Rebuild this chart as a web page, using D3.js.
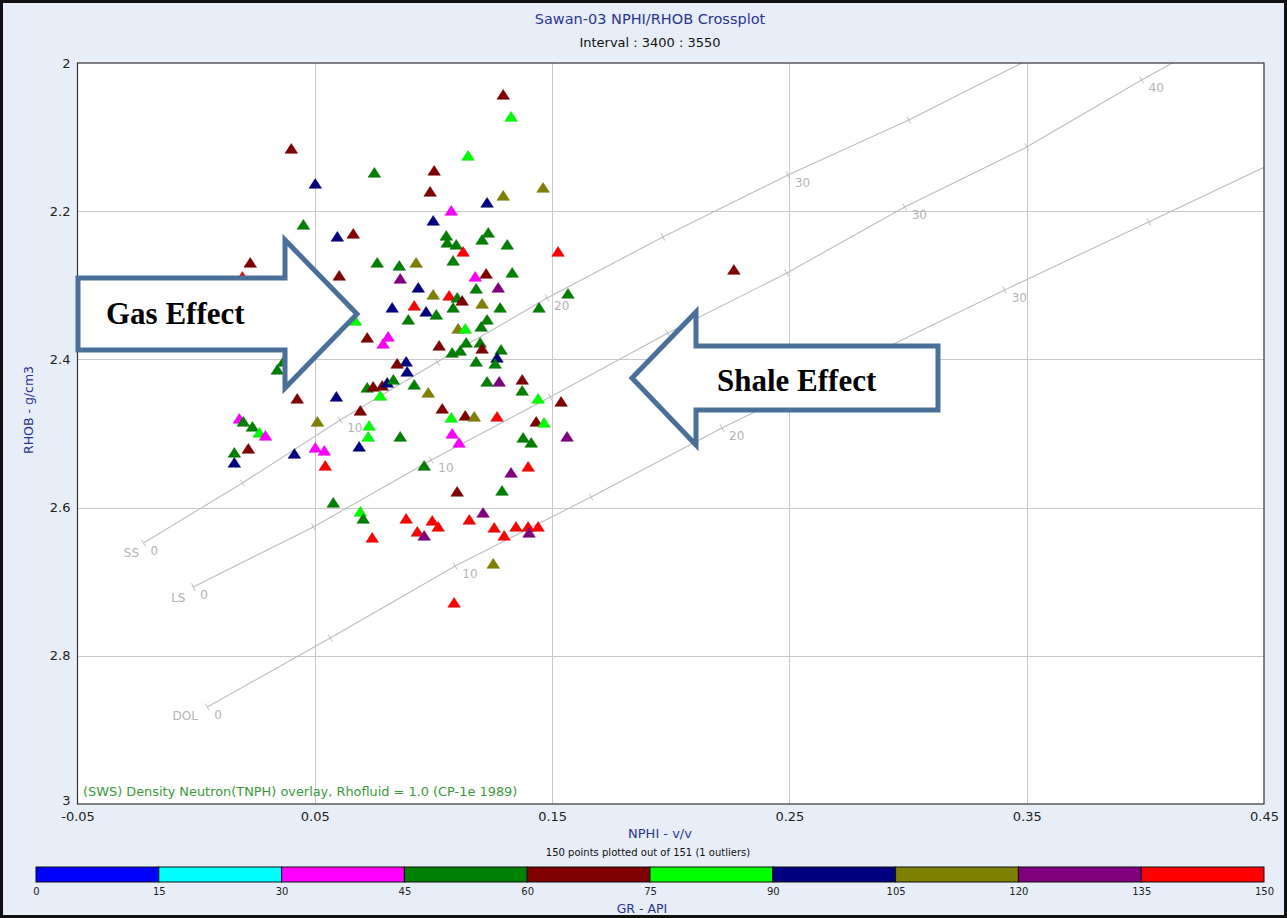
<!DOCTYPE html>
<html><head><meta charset="utf-8">
<script src="https://cdn.jsdelivr.net/npm/d3@7"></script>
<style>body{margin:0;background:#fff;}svg{display:block;}</style>
</head><body>
<svg id="chart" width="1287" height="918"></svg>
<script>
// ---------------- DATA ----------------
const pointNPHI = [0.1294,0.1327,0.0401,0.1146,0.1003,0.0751,0.0502,0.0986,0.1462,0.1294,
0.1226,0.1075,0.0999,0.0452,0.0595,0.0662,0.1054,0.1231,0.1058,0.1096,
0.1205,0.1311,0.1125,0.1525,0.0228,0.0195,0.0763,0.0856,0.0927,0.1083,
0.0603,0.0860,0.1176,0.1222,0.1332,0.0936,0.0999,0.1066,0.1100,0.1121,
0.1180,0.1273,0.1205,0.1281,0.1567,0.1445,0.0919,0.0969,0.0826,0.1083,
0.0894,0.1012,0.1226,0.1201,0.1104,0.1134,0.0671,0.0721,0.0809,0.0788,
0.1024,0.1079,0.1113,0.1138,0.1197,0.1205,0.1285,0.1268,0.1260,0.1180,
0.0885,0.0847,0.0889,0.0367,0.0342,0.0721,0.0746,0.0784,0.0805,0.0831,
0.0776,0.0919,0.0978,0.1226,0.1277,0.1374,0.1374,0.1441,0.1538,0.0426,
0.0591,0.0692,0.0511,0.0729,0.0725,0.0687,0.1037,0.1075,0.1134,0.1172,
0.1268,0.1433,0.1466,0.0860,0.1079,0.1108,0.1378,0.1412,0.1563,0.0182,
0.0199,0.0237,0.0266,0.0292,0.0161,0.0220,0.0161,0.0414,0.0502,0.0540,
0.0544,0.0961,0.1327,0.1399,0.1100,0.1289,0.0578,0.0692,0.0704,0.0742,
0.0885,0.0995,0.1020,0.0932,0.0961,0.1151,0.1209,0.1256,0.1298,0.1348,
0.1399,0.1441,0.1403,0.1252,0.1087,0.2266];
const pointRHOB = [2.0432,2.0729,2.1161,2.1255,2.1457,2.1484,2.1633,2.1741,2.1687,2.1795,
2.1889,2.1997,2.2132,2.2186,2.2348,2.2308,2.2335,2.2294,2.2429,2.2456,
2.2389,2.2456,2.2551,2.2551,2.2699,2.2888,2.2699,2.2740,2.2699,2.2672,
2.2874,2.2915,2.2888,2.2848,2.2834,2.3036,2.3131,2.3144,2.3171,2.3212,
2.3050,2.3036,2.3252,2.3306,2.3117,2.3306,2.3279,2.3360,2.3306,2.3306,
2.3468,2.3401,2.3468,2.3563,2.3590,2.3590,2.3482,2.3711,2.3698,2.3792,
2.3819,2.3914,2.3887,2.3779,2.3779,2.3860,2.3873,2.3981,2.4062,2.4035,
2.4035,2.4062,2.4170,2.4035,2.4143,2.4386,2.4372,2.4359,2.4318,2.4278,
2.4494,2.4345,2.4453,2.4305,2.4305,2.4278,2.4426,2.4534,2.4575,2.4534,
2.4507,2.4696,2.4845,2.4899,2.5047,2.5182,2.4669,2.4791,2.4764,2.4777,
2.4777,2.4845,2.4858,2.5047,2.5007,2.5128,2.5061,2.5128,2.5047,2.4804,
2.4845,2.4912,2.4993,2.5034,2.5263,2.5209,2.5398,2.5277,2.5196,2.5236,
2.5439,2.5439,2.5533,2.5452,2.5789,2.5776,2.5938,2.6059,2.6154,2.6410,
2.6154,2.6181,2.6262,2.6329,2.6383,2.6167,2.6073,2.6275,2.6383,2.6262,
2.6262,2.6262,2.6343,2.6761,2.7287,2.2794];
const pointGR = [67,82,67,82,67,52,97,67,112,112,
97,37,97,52,97,67,52,52,52,52,
52,52,142,142,67,142,52,52,112,52,
67,127,37,67,52,97,112,142,52,67,
52,127,112,52,52,52,142,97,97,52,
52,52,52,52,112,82,82,67,37,37,
67,52,52,52,52,67,52,97,52,52,
97,67,97,52,52,52,67,67,97,52,
82,52,112,52,127,67,52,82,67,67,
97,67,112,82,82,97,67,82,67,112,
142,67,82,52,37,37,52,52,127,37,
52,52,82,37,52,67,97,97,37,37,
142,52,127,142,67,52,52,82,52,142,
142,142,142,142,127,142,127,142,142,142,
142,142,127,112,142,67];

const xTickValues = [-0.05, 0.05, 0.15, 0.25, 0.35, 0.45];
const xTickLabels = ["-0.05", "0.05", "0.15", "0.25", "0.35", "0.45"];
const yTickValues = [2, 2.2, 2.4, 2.6, 2.8, 3];
const yTickLabels = ["2", "2.2", "2.4", "2.6", "2.8", "3"];

const grBreaks = [0, 15, 30, 45, 60, 75, 90, 105, 120, 135, 150];
const grColors = ["#0000ff", "#00ffff", "#ff00ff", "#008000", "#800000",
                  "#00ff00", "#000080", "#808000", "#800080", "#ff0000"];

// Overlay chart lines (porosity %, NPHI, RHOB)
const ssPoro = [0, 5, 10, 15, 20, 25, 30, 35, 40];
const ssNPHI = [-0.0222, 0.0195, 0.0607, 0.1016, 0.1479, 0.1967, 0.2494, 0.3003, 0.3538];
const ssRHOB = [2.6478, 2.5668, 2.4818, 2.4035, 2.3171, 2.2348, 2.1511, 2.0769, 1.9906];
const lsPoro = [0, 5, 10, 15, 20, 25, 30, 35, 40, 45];
const lsNPHI = [-0.0012, 0.0494, 0.0991, 0.1492, 0.1988, 0.2489, 0.2986, 0.3500, 0.3984, 0.4481];
const lsRHOB = [2.7071, 2.6262, 2.5358, 2.4507, 2.3644, 2.2834, 2.1943, 2.1134, 2.0229, 1.9352];
const dolPoro = [0, 5, 10, 15, 20, 25, 30, 35, 40];
const dolNPHI = [0.0047, 0.0565, 0.1092, 0.1664, 0.2216, 0.2809, 0.3407, 0.4014, 0.4620];
const dolRHOB = [2.8691, 2.7760, 2.6788, 2.5857, 2.4926, 2.3995, 2.3063, 2.2146, 2.1228];

// ---------------- LAYOUT ----------------
const W = 1287, H = 918;
const P = {left: 77.5, right: 1264, top: 63, bottom: 804};
const FONT = "'DejaVu Sans', sans-serif";
const BLUE_TXT = "#2a3590";

const svg = d3.select("#chart");
svg.append("rect").attr("x", 0).attr("y", 0).attr("width", W).attr("height", H).attr("fill", "#e7eef7");
svg.append("rect").attr("x", 1.5).attr("y", 1.5).attr("width", W - 3).attr("height", H - 3)
   .attr("fill", "none").attr("stroke", "#111").attr("stroke-width", 3);

const x = d3.scaleLinear().domain([-0.05, 0.45]).range([P.left, P.right]);
const y = d3.scaleLinear().domain([2, 3]).range([P.top, P.bottom]);

// plot area
svg.append("rect").attr("x", P.left).attr("y", P.top).attr("width", P.right - P.left)
   .attr("height", P.bottom - P.top).attr("fill", "#fff");

svg.append("defs").append("clipPath").attr("id", "plotclip").append("rect")
   .attr("x", P.left).attr("y", P.top).attr("width", P.right - P.left).attr("height", P.bottom - P.top);

// grid
const grid = svg.append("g").attr("stroke", "#c8c8c8").attr("stroke-width", 1);
grid.selectAll("line.v").data(xTickValues.slice(1, -1)).join("line")
  .attr("x1", d => Math.round(x(d)) + 0.5).attr("x2", d => Math.round(x(d)) + 0.5)
  .attr("y1", P.top).attr("y2", P.bottom);
grid.selectAll("line.h").data(yTickValues.slice(1, -1)).join("line")
  .attr("y1", d => Math.round(y(d)) + 0.5).attr("y2", d => Math.round(y(d)) + 0.5)
  .attr("x1", P.left).attr("x2", P.right);

// overlay lines
const overlay = svg.append("g").attr("clip-path", "url(#plotclip)");
const lithos = [
  {name: "SS", poro: ssPoro, nphi: ssNPHI, rhob: ssRHOB, nameDx: -12, nameDy: 14},
  {name: "LS", poro: lsPoro, nphi: lsNPHI, rhob: lsRHOB, nameDx: -15, nameDy: 15},
  {name: "DOL", poro: dolPoro, nphi: dolNPHI, rhob: dolRHOB, nameDx: -22, nameDy: 13}
];
const lineGen = d3.line().x(d => x(d[0])).y(d => y(d[1]));
lithos.forEach(L => {
  const pts = L.poro.map((p, i) => [L.nphi[i], L.rhob[i], p]);
  overlay.append("path").attr("d", lineGen(pts)).attr("fill", "none")
    .attr("stroke", "#bdbdbd").attr("stroke-width", 1.1);
  pts.forEach((pt, i) => {
    const a = pts[Math.max(0, i - 1)], b = pts[Math.min(pts.length - 1, i + 1)];
    const dx = x(b[0]) - x(a[0]), dy = y(b[1]) - y(a[1]);
    const len = Math.hypot(dx, dy);
    const nx = -dy / len * 4, ny = dx / len * 4;
    const cx = x(pt[0]), cy = y(pt[1]);
    overlay.append("line").attr("x1", cx - nx).attr("y1", cy - ny).attr("x2", cx + nx).attr("y2", cy + ny)
      .attr("stroke", "#bdbdbd").attr("stroke-width", 1);
    if (pt[2] % 10 === 0 && cx < P.right - 10 && cy > P.top + 10) {
      overlay.append("text").attr("x", cx + 7).attr("y", cy + 12)
        .attr("font-family", FONT).attr("font-size", 12).attr("fill", "#b3b3b3")
        .text(pt[2]);
    }
    if (i === 0) {
      overlay.append("text").attr("x", cx + L.nameDx).attr("y", cy + L.nameDy)
        .attr("text-anchor", "middle")
        .attr("font-family", FONT).attr("font-size", 12).attr("fill", "#b3b3b3")
        .text(L.name);
    }
  });
});

// points
const colorOf = gr => grColors[Math.min(9, Math.floor(gr / 15))];
const tri = "M0,-5.5L6.3,4.3L-6.3,4.3Z";
svg.append("g").attr("clip-path", "url(#plotclip)")
  .selectAll("path").data(pointNPHI.map((v, i) => ({n: v, r: pointRHOB[i], g: pointGR[i]})))
  .join("path")
  .attr("d", tri)
  .attr("transform", d => `translate(${x(d.n)},${y(d.r)})`)
  .attr("fill", d => colorOf(d.g))
  .attr("stroke", d => d3.color(colorOf(d.g)).darker(0.6))
  .attr("stroke-width", 0.5);

// overlay caption
svg.append("text").attr("x", 83).attr("y", 796).attr("font-family", FONT).attr("font-size", 12.9)
  .attr("fill", "#3a9a3a").text("(SWS) Density Neutron(TNPH) overlay, Rhofluid = 1.0 (CP-1e 1989)");

// plot frame
svg.append("rect").attr("x", P.left).attr("y", P.top).attr("width", P.right - P.left)
   .attr("height", P.bottom - P.top).attr("fill", "none").attr("stroke", "#333").attr("stroke-width", 1.2);

// axes labels
const xAxis = d3.axisBottom(x).tickValues(xTickValues).tickSize(0).tickPadding(0)
  .tickFormat((d, i) => xTickLabels[i]);
const gx = svg.append("g").attr("transform", `translate(0,${P.bottom + 7})`).call(xAxis);
gx.select(".domain").remove();
gx.selectAll("text").attr("font-family", FONT).attr("font-size", 13).attr("fill", "#222").attr("dy", "0.8em");

const yAxis = d3.axisLeft(y).tickValues(yTickValues).tickSize(0).tickPadding(0)
  .tickFormat((d, i) => yTickLabels[i]);
const gy = svg.append("g").attr("transform", `translate(${P.left - 7},0)`).call(yAxis);
gy.select(".domain").remove();
gy.selectAll("text").attr("font-family", FONT).attr("font-size", 13).attr("fill", "#222")
  .attr("dy", (d, i) => i === yTickValues.length - 1 ? "0.05em" : "0.32em");

// titles
svg.append("text").attr("x", 650).attr("y", 24).attr("text-anchor", "middle").attr("font-family", FONT)
  .attr("font-size", 14.5).attr("fill", BLUE_TXT).text("Sawan-03 NPHI/RHOB Crossplot");
svg.append("text").attr("x", 650).attr("y", 47).attr("text-anchor", "middle").attr("font-family", FONT)
  .attr("font-size", 13).attr("fill", "#111").text("Interval : 3400 : 3550");
svg.append("text").attr("x", 660).attr("y", 838).attr("text-anchor", "middle").attr("font-family", FONT)
  .attr("font-size", 13).attr("fill", BLUE_TXT).text("NPHI - v/v");
svg.append("text").attr("x", 648).attr("y", 856).attr("text-anchor", "middle").attr("font-family", FONT)
  .attr("font-size", 10).attr("fill", "#111").text("150 points plotted out of 151 (1 outliers)");
svg.append("text").attr("transform", "translate(33,410) rotate(-90)").attr("text-anchor", "middle")
  .attr("font-family", FONT).attr("font-size", 12.5).attr("fill", BLUE_TXT).text("RHOB - g/cm3");

// colour bar legend
const gScale = d3.scaleLinear().domain([0, 150]).range([36, 1264]);
const legend = svg.append("g");
legend.selectAll("rect").data(grColors).join("rect")
  .attr("x", (d, i) => gScale(grBreaks[i])).attr("y", 867)
  .attr("width", (d, i) => gScale(grBreaks[i + 1]) - gScale(grBreaks[i])).attr("height", 15)
  .attr("fill", d => d).attr("stroke", "#111").attr("stroke-width", 1);
const gAxis = d3.axisBottom(gScale).tickValues(grBreaks).tickSize(0).tickPadding(0);
const gg = legend.append("g").attr("transform", "translate(0,887)").call(gAxis);
gg.select(".domain").remove();
gg.selectAll("text").attr("font-family", FONT).attr("font-size", 10).attr("fill", "#222").attr("dy", "0.8em");
svg.append("text").attr("x", 642).attr("y", 913).attr("text-anchor", "middle").attr("font-family", FONT)
  .attr("font-size", 12.5).attr("fill", BLUE_TXT).text("GR - API");

// annotation arrows
const arrowStroke = "#4a7099";
const gasPts = [[78, 278], [285, 278], [285, 240], [357, 314], [285, 388], [285, 350], [78, 350]];
const shalePts = [[938, 346], [696, 346], [696, 312], [632, 378], [696, 445], [696, 410], [938, 410]];
const ann = svg.append("g");
[gasPts, shalePts].forEach(pts => {
  ann.append("path").attr("d", d3.line()(pts) + "Z").attr("fill", "#fff")
    .attr("stroke", arrowStroke).attr("stroke-width", 5).attr("stroke-linejoin", "miter");
});
ann.append("text").attr("x", 106).attr("y", 324).attr("font-family", "'Liberation Serif', 'Times New Roman', serif")
  .attr("font-weight", "bold").attr("font-size", 31).attr("fill", "#000").text("Gas Effect");
ann.append("text").attr("x", 717).attr("y", 391).attr("font-family", "'Liberation Serif', 'Times New Roman', serif")
  .attr("font-weight", "bold").attr("font-size", 31).attr("fill", "#000").text("Shale Effect");
</script>
</body></html>
